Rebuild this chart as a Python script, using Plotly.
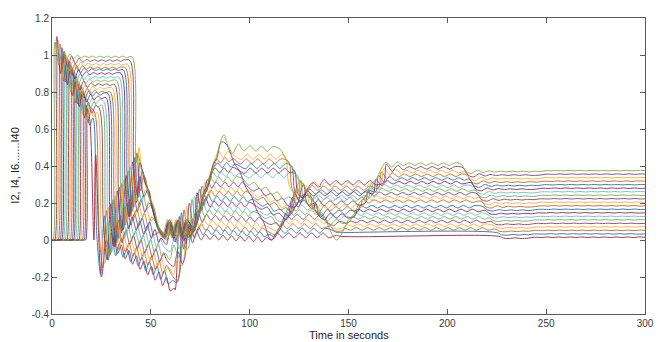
import plotly.graph_objects as go

# ---------------- data (series j=0 is the top line at the end) -------------
SERIES = ["I2", "I4", "I6", "I8", "I10", "I12", "I14", "I16", "I18", "I20",
          "I22", "I24", "I26", "I28", "I30", "I32", "I34", "I36", "I38", "I40"]

T_RISE = [0.5, 1.4, 2.2, 3.1, 4.0, 4.9, 5.7, 6.6, 7.5, 8.3, 9.2, 10.1, 10.9, 11.8, 12.7, 13.6, 14.4, 15.3, 16.2, 17.0]
PEAK = [1.07, 1.10, 1.08, 1.06, 1.04, 1.01, 0.99, 0.97, 0.95, 0.93, 0.91, 0.89, 0.86, 0.84, 0.82, 0.80, 0.78, 0.76, 0.73, 0.71]
PLATEAU = [0.99, 0.97, 0.95, 0.93, 0.92, 0.90, 0.88, 0.86, 0.84, 0.82, 0.80, 0.79, 0.77, 0.75, 0.73, 0.71, 0.69, 0.68, 0.66, 0.64]
T_FALL = [40.5, 39.4, 38.3, 37.2, 36.1, 35.0, 33.9, 32.8, 31.7, 30.6, 29.5, 28.4, 27.3, 26.2, 25.1, 24.0, 22.9, 21.8, 20.7, 19.2]
POST_FALL = [0.42, 0.40, 0.38, 0.35, 0.33, 0.31, 0.29, 0.27, 0.24, 0.22, 0.20, 0.18, 0.16, 0.13, 0.11, 0.09, 0.07, 0.05, 0.02, 0.00]
SPIKE_T = [22.1, 25.0, 27.5]          # only the last line (I40)
SPIKE_Y = [0.46, -0.20, 0.00]
T_LEFT_ARM = [43.5, 44.5, 45.4, 46.4, 47.4, 48.4, 49.3, 50.3, 51.3, 52.3, 53.2, 54.2, 55.2, 56.2, 57.1, 58.1, 59.1, 60.1, 61.0, 61.8]
LEFT_ARM = [0.46, 0.42, 0.38, 0.35, 0.31, 0.27, 0.23, 0.19, 0.16, 0.12, 0.08, 0.04, 0.01, -0.03, -0.07, -0.11, -0.15, -0.18, -0.22, -0.26]
V_LEVEL = [0.07, 0.07, 0.07, 0.06, 0.06, 0.06, 0.06, 0.05, 0.05, 0.05, 0.05, 0.04, 0.04, 0.04, 0.04, 0.03, 0.03, 0.03, 0.03, 0.03]
T_RIGHT_ARM = [87.0, 85.7, 84.4, 83.1, 81.7, 80.4, 79.1, 77.8, 76.5, 75.2, 73.8, 72.5, 71.2, 69.9, 68.6, 67.3, 65.9, 64.6, 63.3, 62.3]
RIGHT_ARM = [0.57, 0.53, 0.48, 0.44, 0.39, 0.35, 0.30, 0.26, 0.22, 0.17, 0.13, 0.08, 0.04, 0.00, -0.05, -0.09, -0.14, -0.18, -0.23, -0.27]
LEVEL_2 = [0.50, 0.475, 0.45, 0.425, 0.40, 0.375, 0.35, 0.325, 0.30, 0.275, 0.25, 0.225, 0.20, 0.175, 0.15, 0.125, 0.10, 0.075, 0.05, 0.025]
T_F3 = [88.0, 89.2, 90.4, 91.6, 92.8, 94.1, 95.3, 96.5, 97.7, 98.9, 100.1, 101.3, 102.5, 103.7, 104.9, 106.2, 107.4, 108.6, 109.8, 111.0]
F3_TOUCH = [0.52, 0.49, 0.47, 0.44, 0.41, 0.38, 0.36, 0.33, 0.30, 0.27, 0.25, 0.22, 0.19, 0.16, 0.14, 0.11, 0.08, 0.05, 0.03, 0.00]
T_B3 = [132.0, 130.9, 129.8, 128.7, 127.6, 126.5, 125.4, 124.3, 123.2, 122.1, 121.0, 119.8, 118.7, 117.6, 116.5, 115.4, 114.3, 113.2, 112.1, 111.0]
B3_TOUCH = [0.31, 0.29, 0.28, 0.26, 0.24, 0.23, 0.21, 0.20, 0.18, 0.16, 0.15, 0.13, 0.11, 0.10, 0.08, 0.07, 0.05, 0.03, 0.02, 0.00]
T_F4 = [115.0, 116.5, 118.1, 119.6, 121.1, 122.6, 124.2, 125.7, 127.2, 128.7, 130.3, 131.8, 133.3, 134.8, 136.4, 137.9, 139.4, 140.9, 142.5, 144.0]
LEVEL_3 = [0.33, 0.31, 0.30, 0.28, 0.26, 0.25, 0.23, 0.22, 0.20, 0.18, 0.17, 0.15, 0.13, 0.12, 0.10, 0.09, 0.07, 0.05, 0.04, 0.02]
T_B4 = [169.0, 167.7, 166.4, 165.1, 163.7, 162.4, 161.1, 159.8, 158.5, 157.2, 155.8, 154.5, 153.2, 151.9, 150.6, 149.3, 147.9, 146.6, 145.3, 144.0]
LEVEL_4 = [0.41, 0.39, 0.37, 0.35, 0.33, 0.31, 0.29, 0.27, 0.25, 0.23, 0.21, 0.18, 0.16, 0.14, 0.12, 0.10, 0.08, 0.06, 0.04, 0.02]
T_SETTLE = [207, 208, 209, 210, 211, 212, 213, 214, 215, 216, 217, 218, 219, 220, 221, 222, 223, 224, 225, 226]
FINAL = [0.375, 0.356, 0.337, 0.318, 0.299, 0.280, 0.261, 0.242, 0.223, 0.204, 0.185, 0.166, 0.147, 0.128, 0.109, 0.090, 0.071, 0.052, 0.033, 0.015]
T_BUMP = [247, 247, 246, 246, 246, 245, 245, 245, 244, 244, 244, 243, 243, 243, 242, 242, 242, 241, 241, 241]
# the two lines that run along the long diagonals between 85 s and 170 s
DIAG0_T = [88.6, 115.5, 144.0, 169.0]
DIAG0_Y = [0.52, 0.49, 0.00, 0.42]
DIAG1_T = [88.0, 111.0, 132.0]
DIAG1_Y = [0.52, 0.00, 0.31]

X_TICKS = [0, 50, 100, 150, 200, 250, 300]
Y_TICKS = [-0.4, -0.2, 0, 0.2, 0.4, 0.6, 0.8, 1.0, 1.2]
Y_TICK_TEXT = ["-0.4", "-0.2", "0", "0.2", "0.4", "0.6", "0.8", "1", "1.2"]

# ---------------- styling --------------------------------------------------------------------------
COLORS = ["#77AC30", "#7E2F8E", "#EDB120", "#D95319", "#0072BD", "#A2142F", "#4DBEEE"]
PHASES = [0.0, 0.45, 0.9, 0.3, 0.75, 0.15, 0.6, 0.05, 0.5, 0.95,
          0.35, 0.8, 0.2, 0.65, 0.1, 0.55, 0.0, 0.4, 0.85, 0.25]
DECAY = 0.7


def half_period(t):
    # ringing half period grows later in the record
    if t < 45:
        return 1.9
    if t < 85:
        return 2.2
    return 2.9


def seg(pts, t1, y1, base0=None, a0=0.0, a1=0.0, sign=-1, phase=0.0):
    t0, y0 = pts[-1]
    if t1 - t0 < 0.3:
        return
    if base0 is None:
        base0 = y0
    half = half_period(t0)

    def base_at(t):
        return base0 + (y1 - base0) * (t - t0) / (t1 - t0)

    k = 0
    tk = t0 + half * (1 + phase)
    while a0 > 0 and tk < t1 - 0.6 * half:
        tm = tk - 0.5 * half
        if tm > t0 + 0.3 * half and k > 0:
            pts.append((tm, base_at(tm)))
        amp = max(a1, a0 * DECAY ** k)
        pts.append((tk, base_at(tk) + sign * (-1) ** k * amp))
        k += 1
        tk += half
    pts.append((t1, y1))


def build(j):
    ph = PHASES[j]
    P, L, R = PEAK[j], PLATEAU[j], POST_FALL[j]
    pts = [(0.0, 0.0)]
    seg(pts, T_RISE[j] - 0.5, 0.0)
    seg(pts, T_RISE[j], 0.0)
    seg(pts, T_RISE[j] + 1.0, P)
    seg(pts, T_FALL[j], L, base0=L, a0=0.55 * (P - L), a1=0.004, sign=-1)
    seg(pts, T_FALL[j] + 2.0, R)
    ring = 0.3 * (L - R)
    if j == 19:
        for t, y in zip(SPIKE_T, SPIKE_Y):
            seg(pts, t, y)
        ring = 0.06
    seg(pts, T_LEFT_ARM[j], LEFT_ARM[j], a0=ring, a1=0.03, sign=-1)
    if j <= 11:
        if j <= 10:
            seg(pts, 54.0, V_LEVEL[j], a0=0.015, a1=0.015, phase=ph)
        seg(pts, 71.5, V_LEVEL[j], a0=0.04, a1=0.04, phase=ph)
        seg(pts, T_RIGHT_ARM[j], RIGHT_ARM[j], a0=0.015, a1=0.015, phase=ph)
    else:
        seg(pts, T_RIGHT_ARM[j], RIGHT_ARM[j], a0=0.04, a1=0.035, phase=ph)

    M, S, F = LEVEL_4[j], LEVEL_3[j], FINAL[j]
    if j == 0:
        seg(pts, DIAG0_T[0], DIAG0_Y[0])
        seg(pts, DIAG0_T[1], DIAG0_Y[1], base0=0.50, a0=0.03, a1=0.014, sign=-1)
        seg(pts, DIAG0_T[2], DIAG0_Y[2], a0=0.008, a1=0.008, phase=ph)
        seg(pts, DIAG0_T[3], DIAG0_Y[3], a0=0.008, a1=0.008, phase=ph)
        seg(pts, T_SETTLE[j], M, base0=M, a0=0.015, a1=0.007, sign=-1)
    else:
        if j == 1:
            seg(pts, DIAG1_T[0], DIAG1_Y[0])
            seg(pts, DIAG1_T[1], DIAG1_Y[1], a0=0.008, a1=0.008, phase=ph)
            seg(pts, DIAG1_T[2], DIAG1_Y[2], a0=0.008, a1=0.008, phase=ph)
            seg(pts, T_B4[j], S, base0=S, a0=0.025, a1=0.011, sign=-1)
        else:
            H, E = LEVEL_2[j], RIGHT_ARM[j]
            seg(pts, T_F3[j], F3_TOUCH[j], base0=H, a0=0.35 * abs(E - H), a1=0.013,
                sign=(-1 if E > H else 1))
            if T_B3[j] < T_F4[j]:
                seg(pts, T_B3[j], B3_TOUCH[j], base0=H, a0=0.015, a1=0.013, phase=ph)
                seg(pts, T_F4[j], H, base0=H, a0=0.35 * abs(B3_TOUCH[j] - H), a1=0.013, sign=1)
                seg(pts, T_F4[j] + 1.8, S)
                seg(pts, T_B4[j], S, base0=S, a0=0.3 * (H - S), a1=0.011, sign=-1)
            else:
                seg(pts, T_F4[j], H, base0=H, a0=0.015, a1=0.013, phase=ph)
                seg(pts, T_F4[j] + 1.8, S)
                seg(pts, T_B3[j], B3_TOUCH[j], base0=S, a0=0.3 * (H - S), a1=0.011, sign=-1)
                seg(pts, T_B4[j], S, base0=S, a0=0.015, a1=0.011, sign=1)
        seg(pts, T_B4[j] + 1.5, M + 0.25 * (M - S))
        seg(pts, T_SETTLE[j], M, base0=M, a0=0.25 * (M - S), a1=0.007, sign=-1)
    seg(pts, T_SETTLE[j] + 2.5, F - 0.005)
    seg(pts, T_BUMP[j], F - 0.005, base0=F - 0.005, a0=0.3 * (M - F), a1=0.002, sign=-1)
    seg(pts, T_BUMP[j] + 3.0, F)
    seg(pts, 300.0, F, a0=0.0015, a1=0.0015, phase=ph)
    xs = [p[0] for p in pts]
    ys = [p[1] for p in pts]
    return xs, ys


fig = go.Figure()
for j in reversed(range(len(SERIES))):
    xs, ys = build(j)
    fig.add_trace(go.Scatter(
        x=xs, y=ys, mode="lines", name=SERIES[j], showlegend=False, hoverinfo="skip",
        line=dict(color=COLORS[j % 7], width=1, shape="spline", smoothing=1.0),
        opacity=0.85))

FONT = "Liberation Sans, Arial, Helvetica, sans-serif"
axis_common = dict(showline=True, linecolor="#5a5a5a", linewidth=1, mirror="ticks",
                   ticks="inside", ticklen=5, tickcolor="#5a5a5a", tickwidth=1,
                   showgrid=False, zeroline=False,
                   tickfont=dict(family=FONT, size=10, color="#3a3a3a"))
fig.update_layout(
    width=666, height=342,
    margin=dict(l=52, r=21, t=13, b=28),
    paper_bgcolor="white", plot_bgcolor="white",
    xaxis=dict(range=[0, 300], tickvals=X_TICKS, **axis_common),
    yaxis=dict(range=[-0.4, 1.2], tickvals=Y_TICKS, ticktext=Y_TICK_TEXT, **axis_common),
    annotations=[
        dict(text="Time in seconds", xref="paper", yref="paper", x=0.5, y=-0.072,
             xanchor="center", yanchor="middle", showarrow=False,
             font=dict(family=FONT, size=11, color="#262626")),
        dict(text="I2, I4, I6.......I40", xref="paper", yref="paper", x=-0.063, y=0.5,
             xanchor="center", yanchor="middle", textangle=-90, showarrow=False,
             font=dict(family=FONT, size=11, color="#262626")),
    ],
)
fig.write_html("out.html", config={"displayModeBar": False},
               post_script="document.body.style.margin='0px';document.body.style.overflow='hidden';")
